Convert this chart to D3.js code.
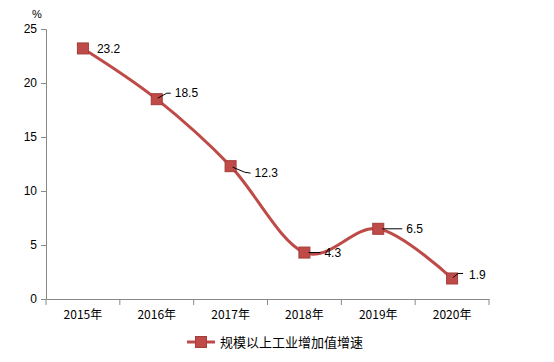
<!DOCTYPE html>
<html><head><meta charset="utf-8">
<script src="https://cdn.jsdelivr.net/npm/d3@7/dist/d3.min.js"></script>
<style>body{margin:0;background:#fff}svg{display:block}</style>
</head><body>
<script>
const categories = ["2015年","2016年","2017年","2018年","2019年","2020年"];
const values = [23.2, 18.5, 12.3, 4.3, 6.5, 1.9];
const yTicks = [0, 5, 10, 15, 20, 25];
const seriesName = "规模以上工业增加值增速";
const unit = "%";

// label placement (style): leader polyline offsets and text offset relative to marker
const labelStyle = [
  {lead: null, tx: 14, ty: 0},
  {lead: [[1,-1],[10,-6],[14,-6]], tx: 18, ty: -6},
  {lead: [[2,1],[14,6],[20,7]], tx: 24, ty: 7},
  {lead: [[4,0],[16,0]], tx: 20, ty: 0},
  {lead: [[4,0],[24,0]], tx: 28, ty: 0},
  {lead: [[1,-1],[6,-5],[11,-5]], tx: 17, ty: -4}
];

const W = 554, H = 362;
const font = "'Liberation Sans', Arial, sans-serif";
const cjk = "'Noto Sans CJK SC', sans-serif";
const svg = d3.select("body").append("svg").attr("width", W).attr("height", H);

const x = d3.scaleBand().domain(categories).range([46, 489]);
const y = d3.scaleLinear().domain([0, 25]).range([299, 29]);
const axisColor = "#898989";

// y axis
const ya = svg.append("g").attr("transform", "translate(46,0)")
  .call(d3.axisLeft(y).tickValues(yTicks).tickSize(5).tickPadding(4));
ya.selectAll("path,line").attr("stroke", axisColor);
ya.selectAll("text").attr("font-family", font).attr("font-size", 12).attr("fill", "#000");

// x axis
const xa = svg.append("g").attr("transform", "translate(0,299)")
  .call(d3.axisBottom(x).tickSize(0).tickPadding(11));
xa.select("path").attr("stroke", axisColor);
xa.selectAll("text").attr("font-family", cjk).attr("font-size", 12).attr("fill", "#000");
const bounds = categories.map(c => x(c)).concat([x.range()[1]]);
svg.append("g").selectAll("line").data(bounds).join("line")
  .attr("x1", d => d).attr("x2", d => d).attr("y1", 299).attr("y2", 305)
  .attr("stroke", axisColor);

// unit
svg.append("text").attr("x", 37).attr("y", 18).attr("text-anchor", "middle")
  .attr("font-family", font).attr("font-size", 11).text(unit);

const cx = c => x(c) + x.bandwidth() / 2;
const pts = categories.map((c, i) => [cx(c), y(values[i])]);
const color = "#BE4B48";

svg.append("path").attr("d", d3.line().curve(d3.curveCatmullRom.alpha(0))(pts))
  .attr("fill", "none").attr("stroke", color).attr("stroke-width", 3);

const ms = 11;
svg.append("g").selectAll("rect").data(pts).join("rect")
  .attr("x", d => d[0] - ms/2).attr("y", d => d[1] - ms/2)
  .attr("width", ms).attr("height", ms)
  .attr("fill", color).attr("stroke", "#A33D3A").attr("stroke-width", 1);

// labels
pts.forEach((p, i) => {
  const s = labelStyle[i];
  if (s.lead) {
    svg.append("polyline")
      .attr("points", s.lead.map(o => (p[0]+o[0]) + "," + (p[1]+o[1])).join(" "))
      .attr("fill", "none").attr("stroke", "#000").attr("stroke-width", 1);
  }
  svg.append("text").attr("x", p[0] + s.tx).attr("y", p[1] + s.ty)
    .attr("dy", "0.35em").attr("font-family", font).attr("font-size", 12)
    .text(values[i].toFixed(1));
});

// legend
const lg = svg.append("g").attr("transform", "translate(187,342)");
lg.append("line").attr("x1", 0).attr("x2", 28).attr("stroke", color).attr("stroke-width", 3);
lg.append("rect").attr("x", 14 - ms/2).attr("y", -ms/2).attr("width", ms).attr("height", ms)
  .attr("fill", color).attr("stroke", "#A33D3A");
lg.append("text").attr("x", 33).attr("dy", "0.35em").attr("font-family", cjk)
  .attr("font-size", 13).text(seriesName);
</script>
</body></html>
